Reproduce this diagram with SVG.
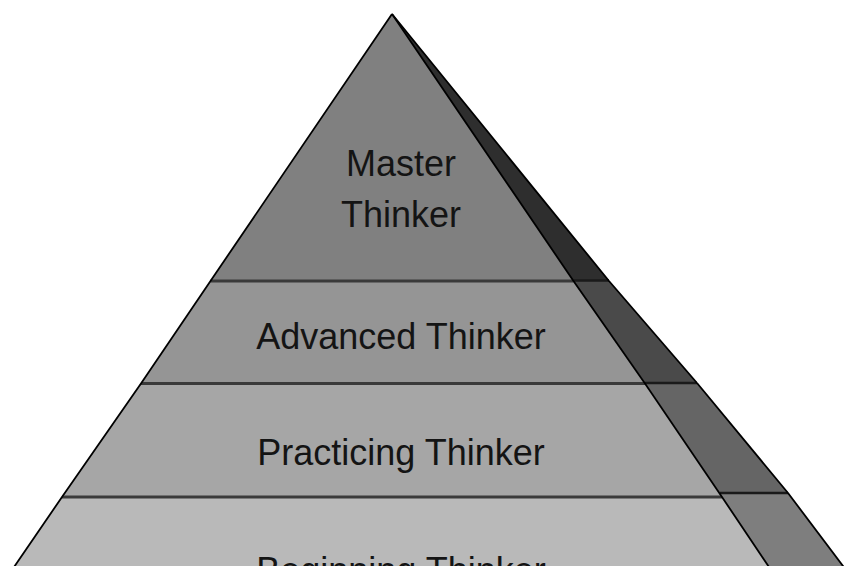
<svg xmlns="http://www.w3.org/2000/svg" width="846" height="566" viewBox="0 0 846 566">
  <style>
    .lbl { font-family: "Liberation Sans", Arial, sans-serif; font-size: 36px; fill: #141414; text-anchor: middle; }
    .front-line { stroke: #3a3a3a; stroke-width: 3; fill: none; }
    .side-line { stroke: #1a1a1a; stroke-width: 2.5; fill: none; }
    .edge { stroke: #000; stroke-width: 1.8; fill: none; stroke-linejoin: round; }
  </style>
  <rect x="0" y="0" width="846" height="566" fill="#ffffff"/>

  <g id="master-thinker">
    <polygon points="392,14 609,281 573.5,281" fill="#2e2e2e"/>
    <polygon points="392,14 573.5,281 210.5,281" fill="#808080"/>
    <text class="lbl" x="401" y="176">Master</text>
    <text class="lbl" x="401" y="227">Thinker</text>
  </g>

  <g id="advanced-thinker">
    <polygon points="573.5,281 609,281 697,383 645,383" fill="#4a4a4a"/>
    <polygon points="210.5,281 573.5,281 645,383.5 141,383.5" fill="#959595"/>
    <text class="lbl" x="401" y="349">Advanced Thinker</text>
  </g>

  <g id="practicing-thinker">
    <polygon points="645,383 697,383 788,493 719.5,493" fill="#656565"/>
    <polygon points="141,383.5 645,383.5 722,497 62,497" fill="#a6a6a6"/>
    <text class="lbl" x="401" y="465">Practicing Thinker</text>
  </g>

  <g id="beginning-thinker">
    <polygon points="719.5,493 788,493 846,570 771,570" fill="#7e7e7e"/>
    <polygon points="62,497 722,497 771,570 12,570" fill="#b9b9b9"/>
    <text class="lbl" x="401" y="583">Beginning Thinker</text>
  </g>

  <g id="connectors">
    <line class="front-line" x1="210.5" y1="281" x2="573.5" y2="281"/>
    <line class="front-line" x1="141" y1="383.5" x2="645" y2="383.5"/>
    <line class="front-line" x1="62" y1="497" x2="722" y2="497"/>
    <line class="side-line" x1="573.5" y1="280.5" x2="609" y2="280.5"/>
    <line class="side-line" x1="645" y1="383" x2="697" y2="383"/>
    <line class="side-line" x1="720" y1="493" x2="788" y2="493"/>
    <polyline class="edge" points="392,14 210.5,281 141,383.5 62,497 12,570"/>
    <polyline class="edge" points="392,14 573.5,281 645,383.5 722,497 771,570"/>
    <polyline class="edge" stroke-width="3.2" points="392,14 609,281 697,383"/>
    <polyline class="edge" points="697,383 788,493 846,570"/>
  </g>
</svg>
